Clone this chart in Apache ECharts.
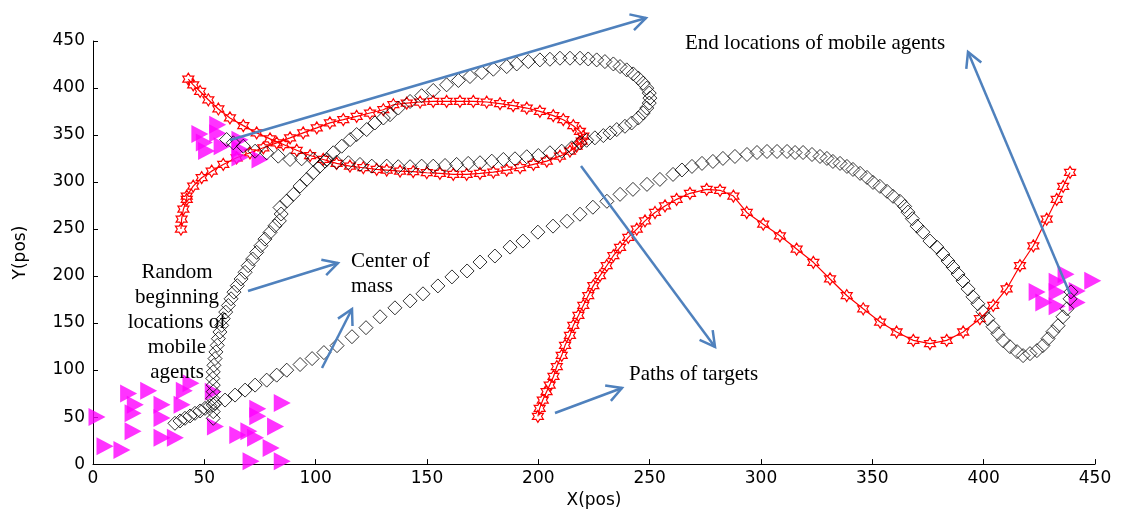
<!DOCTYPE html>
<html>
<head>
<meta charset="utf-8">
<script src="https://cdn.jsdelivr.net/npm/echarts@6/dist/echarts.min.js"></script>
<style>html,body{margin:0;padding:0;background:#fff}#c{width:1121px;height:514px}</style>
</head>
<body>
<div id="c"></div>
<script>
// ---- data ----
const xTicks = [0, 50, 100, 150, 200, 250, 300, 350, 400, 450];
const yTicks = [0, 50, 100, 150, 200, 250, 300, 350, 400, 450];

// Center-of-mass path of group 1 (black diamonds, ends at right cluster)
const comPathA = [[36.8,43.4],[39.1,45.9],[41.3,48.7],[43.6,51.2],[45.8,54.0],[48.1,56.5],[50.3,59.3],[52.5,62.1],[54.8,64.6],[59.3,68.1],[63.8,73.4],[68.3,78.7],[72.8,84.0],[78.0,89.3],[82.5,94.6],[87.0,99.9],[93.0,105.9],[98.4,112.2],[103.7,118.6],[109.6,126.0],[116.3,135.5],[122.6,145.1],[128.9,156.7],[135.6,166.2],[142.4,173.6],[148.2,181.1],[154.9,189.5],[161.2,199.1],[168.0,205.4],[173.8,214.9],[180.5,221.3],[187.3,230.8],[193.1,237.2],[199.8,246.7],[206.6,253.1],[212.9,258.3],[218.7,265.8],[224.5,273.2],[230.8,279.5],[236.7,286.9],[242.5,292.2],[248.8,297.5],[254.6,302.8],[260.5,308.1],[264.5,312.8],[269.0,316.6],[273.5,319.8],[278.4,321.9],[282.9,325.1],[288.3,327.2],[293.7,329.3],[298.2,331.4],[302.7,332.5],[307.2,332.5],[311.7,332.5],[315.3,331.4],[318.9,331.4],[322.9,329.3],[326.5,327.2],[329.6,325.1],[332.3,321.9],[335.5,319.8],[338.6,316.6],[341.3,313.4],[344.5,309.2],[347.6,304.9],[350.3,299.6],[353.4,295.4],[356.6,290.1],[359.3,284.8],[362.4,279.5],[364.5,274.0],[366.0,268.0],[368.0,261.0],[370.1,253.1],[372.7,246.7],[375.9,237.2],[379.0,230.8],[381.7,223.4],[384.0,216.0],[386.2,209.6],[388.5,202.2],[390.7,194.8],[393.0,186.3],[395.2,177.9],[397.4,170.5],[399.7,162.0],[401.9,154.6],[404.2,146.1],[406.4,138.7],[408.7,131.3],[411.8,124.9],[415.0,119.6],[417.7,115.4],[420.8,117.5],[423.9,120.7],[426.6,126.0],[428.9,133.4],[431.1,140.8],[433.4,147.2],[435.6,156.7],[437.4,165.2],[438.8,175.8],[439.2,183.2]];

// Center-of-mass path of group 2 (black diamonds, ends at upper-left cluster)
const comPathB = [[54.0,48.7],[54.0,55.8],[54.0,62.8],[53.8,69.9],[54.0,77.0],[54.0,84.0],[53.8,91.1],[54.0,98.1],[54.3,105.1],[54.8,112.2],[55.2,119.3],[55.8,126.3],[56.3,133.4],[57.0,140.5],[57.8,147.5],[58.5,154.6],[59.6,161.7],[60.8,168.7],[62.0,175.8],[63.3,182.9],[64.8,189.8],[66.5,196.9],[68.3,204.0],[69.7,211.0],[71.7,218.1],[73.5,225.2],[75.4,232.2],[77.2,239.3],[79.5,246.4],[81.7,253.4],[83.7,258.7],[84.5,266.0],[84.0,272.9],[87.0,279.8],[90.0,286.9],[93.0,295.7],[96.0,302.8],[98.9,309.9],[101.9,316.9],[105.0,324.0],[107.9,331.1],[111.7,338.1],[115.5,345.2],[118.4,350.5],[122.9,355.8],[126.6,362.8],[130.4,368.1],[133.4,371.6],[137.1,378.7],[142.4,385.7],[147.6,391.8],[152.8,397.4],[158.8,403.4],[164.1,408.0],[169.3,412.2],[174.6,416.4],[179.8,420.0],[185.8,422.8],[190.3,425.6],[195.5,428.1],[200.7,429.9],[205.2,430.6],[209.7,431.7],[214.2,431.7],[218.7,431.7],[222.4,430.9],[226.2,429.9],[229.9,428.1],[233.7,425.6],[236.7,422.8],[239.7,419.3],[242.6,415.0],[244.9,410.5],[247.1,405.2],[248.7,399.9],[249.8,394.6],[250.1,389.3],[249.8,384.0],[248.7,378.7],[247.1,373.4],[244.9,368.1],[241.9,362.8],[238.9,359.3],[235.2,355.8],[232.2,352.3],[229.2,349.4],[225.4,347.0],[221.7,344.4],[218.7,341.7],[215.0,336.4],[210.5,332.8],[205.2,331.1],[200.0,328.2],[194.8,326.9],[189.5,324.7],[184.3,324.0],[179.1,322.2],[173.8,320.5],[168.5,319.8],[163.3,318.7],[158.1,317.6],[152.8,316.9],[147.6,316.9],[142.4,316.3],[137.1,316.3],[131.9,316.9],[125.2,316.9],[119.9,318.7],[114.7,320.5],[109.4,321.1],[104.2,322.2],[98.9,324.0],[93.7,324.7],[88.5,324.0],[83.2,327.5],[78.0,331.1],[72.8,332.8],[67.5,338.1],[63.0,341.7],[60.0,345.2]];

// Target path 1 (red hexagrams, loop in upper left)
const targetPath1 = [[39.5,250.0],[39.8,260.5],[40.6,271.1],[42.1,281.6],[42.1,285.1],[45.0,295.7],[48.8,304.6],[53.3,311.6],[58.5,318.7],[64.5,325.8],[70.5,331.1],[76.5,336.4],[82.5,341.7],[88.5,347.0],[94.4,352.3],[100.5,357.6],[106.4,362.9],[112.4,366.3],[118.4,369.8],[124.4,373.4],[130.4,376.9],[134.9,382.2],[140.9,384.0],[146.9,385.1],[152.8,385.7],[158.8,385.7],[164.8,385.7],[170.8,385.7],[176.8,385.1],[182.8,383.3],[188.7,381.2],[194.8,378.7],[200.7,375.1],[206.7,370.6],[211.2,366.3],[215.7,359.9],[218.7,353.9],[220.2,348.7],[219.5,343.4],[217.2,338.1],[214.2,332.8],[209.7,327.5],[203.8,322.2],[197.8,318.7],[191.8,315.2],[185.8,312.7],[179.8,310.5],[173.8,309.2],[167.8,308.1],[161.8,308.1],[155.8,309.2],[149.9,309.9],[143.8,311.0],[137.9,311.6],[131.9,312.7],[127.4,313.4],[121.4,315.2],[115.4,316.9],[109.4,319.8],[103.4,324.0],[97.5,328.2],[91.5,333.8],[85.5,339.9],[79.5,345.9],[73.5,352.3],[67.5,360.0],[61.5,368.2],[56.3,377.7],[51.8,387.5],[48.1,396.3],[45.0,403.4],[42.8,409.4]];

// Target path 2 (red hexagrams, wave to the right)
const targetPath2 = [[199.8,50.8],[200.6,59.3],[202.0,68.1],[203.7,77.0],[205.1,84.0],[206.8,93.2],[208.3,103.8],[210.5,115.7],[212.0,126.3],[214.2,136.9],[215.7,147.5],[218.0,158.1],[220.2,168.7],[222.4,179.3],[224.7,189.8],[227.7,200.4],[230.7,211.0],[233.7,221.6],[236.7,230.5],[240.4,241.1],[244.2,249.9],[247.9,258.7],[252.4,267.6],[256.9,274.6],[262.1,281.6],[268.1,288.0],[275.6,292.2],[281.6,291.2],[287.6,285.1],[293.6,267.6],[301.0,255.2],[308.5,242.8],[316.0,228.7],[323.5,214.6],[331.0,196.9],[338.5,179.3],[345.9,165.2],[353.5,151.1],[360.9,140.5],[368.4,131.6],[375.9,128.1],[383.4,131.6],[390.8,140.5],[398.3,154.6],[404.3,168.7],[410.3,186.3],[416.3,211.0],[422.3,232.2],[428.3,260.5],[432.8,281.6],[435.7,295.4],[438.8,310.2]];

// Mobile agents: random beginning locations and end locations
const startAgents = [[1.8,50],[5.4,19],[13,15],[16,75],[19,63],[18,54],[18,35],[25,78],[31,63],[31,49],[31,28],[37,28],[40,63],[41,78],[44,86],[54,77],[55,40],[65,31],[70,35],[74,59],[74,51],[85,65],[73,28],[82,40],[80,17],[71,3],[85,3]];
const endAgents = [[48,351],[50,342],[51,333],[56,361],[56,352],[58,338],[66,345],[66,335],[66,326],[75,324],[424,183],[427,172],[433,194],[433,183],[433,168],[437,202],[442,184],[442,172],[449,195]];

// ---- chart ----
const hexagram = 'path://M0,-10L2.887,-5L8.66,-5L5.774,0L8.66,5L2.887,5L0,10L-2.887,5L-8.66,5L-5.774,0L-8.66,-5L-2.887,-5Z';
const triRight = 'path://M0,0L10,5L0,10Z';
const tickFont = {fontFamily: 'DejaVu Sans', fontSize: 17, color: '#000'};

const chart = echarts.init(document.getElementById('c'), null, {renderer: 'canvas'});
const blue = '#4F81BD';
function arrow(x1, y1, x2, y2) {
  const a = Math.atan2(y2 - y1, x2 - x1), L = 17, w = 0.5;
  const p1 = [x2 - L * Math.cos(a - w), y2 - L * Math.sin(a - w)];
  const p2 = [x2 - L * Math.cos(a + w), y2 - L * Math.sin(a + w)];
  return [
    {type: 'line', z: 100, shape: {x1, y1, x2, y2}, style: {stroke: blue, lineWidth: 2.5}},
    {type: 'polyline', z: 100, shape: {points: [p1, [x2, y2], p2]}, style: {stroke: blue, lineWidth: 2.5, fill: null}}
  ];
}
function label(text, x, y, align) {
  return {type: 'text', z: 100, x, y, style: {text, fontFamily: 'Liberation Serif', fontSize: 21, fill: '#000', align: align || 'left', verticalAlign: 'middle', lineHeight: 25}};
}
const graphics = [].concat(
  arrow(230, 140, 646, 18),
  arrow(1070, 294, 968, 52),
  arrow(581, 166, 715, 347),
  arrow(248, 291, 338, 263),
  arrow(322, 368, 352, 309),
  arrow(555, 413, 622, 388),
  [label('End locations of mobile agents', 685, 43),
   label('Center of\nmass', 351, 274),
   label('Random\nbeginning\nlocations of\nmobile\nagents', 177, 322, 'center'),
   label('Paths of targets', 629, 374)]
);

chart.setOption({
  animation: false,
  backgroundColor: '#fff',
  grid: {left: 93, right: 26, top: 41, bottom: 48, containLabel: false},
  xAxis: {
    type: 'value', min: xTicks[0], max: xTicks[xTicks.length - 1], interval: 50,
    name: 'X(pos)', nameLocation: 'middle', nameGap: 26,
    nameTextStyle: tickFont,
    axisLine: {show: true, onZero: false, lineStyle: {color: '#000', width: 1}},
    axisTick: {show: true, inside: true, length: 5, lineStyle: {color: '#000'}},
    axisLabel: Object.assign({margin: 6}, tickFont),
    splitLine: {show: false}
  },
  yAxis: {
    type: 'value', min: yTicks[0], max: yTicks[yTicks.length - 1], interval: 50,
    name: 'Y(pos)', nameLocation: 'middle', nameGap: 64, nameRotate: 90,
    nameTextStyle: tickFont,
    axisLine: {show: true, onZero: false, lineStyle: {color: '#000', width: 1}},
    axisTick: {show: true, inside: true, length: 5, lineStyle: {color: '#000'}},
    axisLabel: Object.assign({margin: 8}, tickFont),
    splitLine: {show: false}
  },
  series: [
    {type: 'line', name: 'Target 1', data: targetPath1, z: 1, symbol: hexagram, symbolSize: [11, 12], showAllSymbol: true,
     lineStyle: {color: '#ff0000', width: 1.2}, itemStyle: {color: 'rgba(255,255,255,0)', borderColor: '#ff0000', borderWidth: 1.2}},
    {type: 'line', name: 'Target 2', data: targetPath2, z: 1, symbol: hexagram, symbolSize: [11, 12], showAllSymbol: true,
     lineStyle: {color: '#ff0000', width: 1.2}, itemStyle: {color: 'rgba(255,255,255,0)', borderColor: '#ff0000', borderWidth: 1.2}},
    {type: 'scatter', name: 'Start agents', data: startAgents, z: 2, symbol: triRight, symbolSize: [17, 18], itemStyle: {color: '#ff00ff'}},
    {type: 'scatter', name: 'End agents', data: endAgents, z: 2, symbol: triRight, symbolSize: [17, 18], itemStyle: {color: '#ff00ff'}},
    {type: 'scatter', name: 'Center of mass A', data: comPathA, z: 3, symbol: 'diamond', symbolSize: 14,
     itemStyle: {color: 'rgba(255,255,255,0)', borderColor: '#000', borderWidth: 1}},
    {type: 'scatter', name: 'Center of mass B', data: comPathB, z: 3, symbol: 'diamond', symbolSize: 14,
     itemStyle: {color: 'rgba(255,255,255,0)', borderColor: '#000', borderWidth: 1}}
  ],
  graphic: graphics
});
</script>
</body>
</html>
